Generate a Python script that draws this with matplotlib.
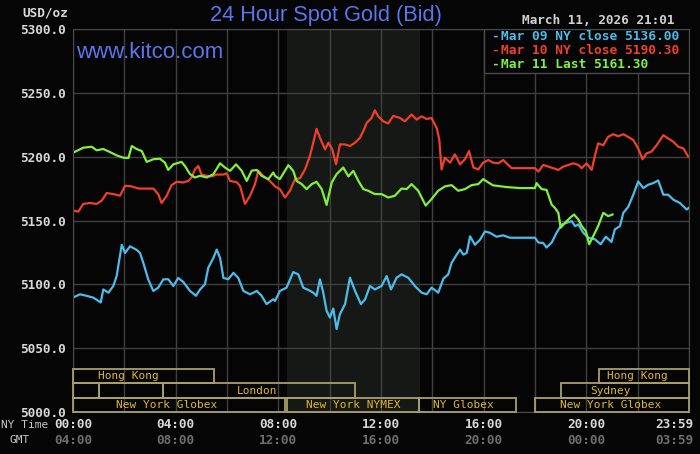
import matplotlib
matplotlib.use('Agg')
import matplotlib.pyplot as plt
from matplotlib.patches import Rectangle
from matplotlib.transforms import blended_transform_factory

# --- data (hours since 00:00 NY time, price USD/oz) ---
mar09_h = [0.0, 0.27, 0.53, 0.79, 1.08, 1.18, 1.38, 1.57, 1.70, 1.90, 2.03, 2.22, 2.48, 2.61,
           2.74, 2.93, 3.13, 3.32, 3.52, 3.71, 3.91, 4.10, 4.30, 4.56, 4.79, 4.95, 5.14, 5.27,
           5.47, 5.60, 5.73, 5.86, 6.05, 6.25, 6.44, 6.64, 6.90, 7.16, 7.35, 7.54, 7.80,
           7.87, 8.06, 8.32, 8.58, 8.78, 8.97, 9.17, 9.36, 9.49, 9.62, 9.75, 9.88, 10.01,
           10.14, 10.27, 10.40, 10.60, 10.79, 10.99, 11.22, 11.38, 11.57, 11.76, 12.02, 12.22,
           12.39, 12.61, 12.80, 13.06, 13.32, 13.58, 13.78, 13.97, 14.23, 14.43, 14.62, 14.75,
           14.95, 15.08, 15.21, 15.34, 15.47, 15.66, 15.86, 16.05, 16.24, 16.50, 16.76, 17.02,
           17.41, 18.00, 18.13, 18.32, 18.45, 18.65, 18.84, 19.04, 19.23, 19.43, 19.56, 19.69,
           19.88, 20.08, 20.34, 20.56, 20.76, 20.98, 21.11, 21.31, 21.44, 21.63, 21.83, 22.02,
           22.22, 22.41, 22.61, 22.80, 23.00, 23.19, 23.39, 23.65, 23.91, 24.0]
mar09_v = [5089.6, 5092.2, 5091.0, 5089.6, 5085.8, 5096.0, 5093.5, 5098.7, 5106.5, 5131.0,
           5124.6, 5129.8, 5127.0, 5124.6, 5116.8, 5103.9, 5094.8, 5097.4, 5103.9, 5104.0,
           5098.7, 5105.0, 5101.8, 5094.8, 5091.0, 5096.0, 5100.0, 5113.0, 5120.7, 5127.2,
           5120.7, 5105.0, 5104.0, 5109.0, 5105.0, 5094.8, 5092.2, 5094.8, 5091.0, 5084.5,
           5088.3, 5087.0, 5094.8, 5097.4, 5109.6, 5107.8, 5097.4, 5095.6, 5093.5, 5091.0,
           5103.9, 5093.5, 5079.3, 5074.0, 5081.0, 5065.0, 5076.7, 5084.5, 5105.2, 5094.8,
           5084.5, 5088.3, 5098.7, 5096.0, 5098.7, 5106.5, 5096.0, 5105.2, 5107.8, 5105.2,
           5098.7, 5093.5, 5092.2, 5097.4, 5093.5, 5104.4, 5107.8, 5116.8, 5123.3, 5127.2,
           5123.3, 5124.6, 5137.6, 5131.0, 5135.0, 5141.4, 5140.4, 5137.3, 5138.4, 5136.5,
           5136.5, 5136.5, 5132.7, 5132.4, 5128.8, 5132.7, 5140.4, 5146.9, 5148.2, 5149.5,
           5145.6, 5146.9, 5140.4, 5136.5, 5135.2, 5131.4, 5137.3, 5133.2, 5143.0, 5145.6,
           5156.0, 5160.6, 5170.2, 5180.6, 5175.4, 5178.0, 5179.3, 5181.4, 5170.2, 5170.2,
           5166.3, 5163.7, 5158.6, 5160.0]

mar10_h = [0.0, 0.21, 0.40, 0.66, 0.92, 1.12, 1.31, 1.57, 1.83, 2.03, 2.29, 2.55, 2.80, 3.13,
           3.32, 3.45, 3.65, 3.84, 4.04, 4.30, 4.49, 4.62, 4.75, 4.88, 5.01, 5.21, 5.40, 5.60,
           5.86, 5.99, 6.12, 6.38, 6.51, 6.70, 6.90, 7.09, 7.22, 7.41, 7.67,
           7.87, 8.06, 8.26, 8.45, 8.65, 8.84, 9.04, 9.23, 9.36, 9.49, 9.62, 9.82, 9.95, 10.10,
           10.25, 10.40, 10.60, 10.79, 10.99, 11.18, 11.31, 11.44, 11.63, 11.76, 11.89, 12.09,
           12.28, 12.48, 12.74, 12.93, 13.19, 13.39, 13.58, 13.78, 13.97, 14.17, 14.27, 14.36,
           14.49, 14.69, 14.88, 15.08, 15.27, 15.43, 15.60, 15.79, 15.98, 16.18, 16.37, 16.57,
           16.76, 16.96, 17.09, 17.41, 18.00, 18.13, 18.32, 18.52, 18.71, 18.91, 19.10, 19.30,
           19.49, 19.69, 19.82, 20.01, 20.21, 20.34, 20.46, 20.66, 20.85, 21.05, 21.24, 21.44,
           21.63, 21.83, 22.02, 22.19, 22.35, 22.54, 22.74, 23.00, 23.19, 23.39, 23.58, 23.78,
           23.97]
mar10_v = [5157.8, 5157.0, 5163.0, 5163.7, 5163.0, 5165.6, 5171.5, 5170.7, 5169.4, 5177.2,
           5176.7, 5175.0, 5175.0, 5175.0, 5170.7, 5163.7, 5169.4, 5177.7, 5180.3, 5179.8,
           5181.0, 5183.7, 5190.0, 5192.7, 5186.0, 5185.0, 5184.5, 5186.0, 5186.0, 5187.0,
           5181.0, 5180.0, 5177.0, 5163.0, 5169.4, 5178.5, 5189.0, 5185.0, 5181.0,
           5176.7, 5174.6, 5168.0, 5173.3, 5182.4, 5183.0, 5190.0, 5200.5, 5211.0, 5221.8,
           5214.8, 5205.7, 5211.0, 5205.7, 5194.0, 5209.6, 5209.6, 5208.3, 5211.0, 5214.8,
           5220.0, 5226.4, 5230.3, 5236.3, 5231.6, 5227.7, 5226.0, 5232.0, 5230.3, 5227.7,
           5233.0, 5229.0, 5231.6, 5229.5, 5230.3, 5222.5, 5213.5, 5190.0, 5199.2, 5195.3,
           5201.8, 5194.0, 5198.0, 5204.4, 5191.5, 5190.0, 5195.3, 5197.4, 5195.3, 5194.8,
           5197.4, 5193.5, 5191.0, 5191.0, 5191.0, 5188.3, 5193.5, 5192.2, 5191.0, 5189.6,
           5192.2, 5193.5, 5194.8, 5193.5, 5191.0, 5194.8, 5189.6, 5201.3, 5210.4, 5209.0,
           5215.5, 5217.6, 5216.0, 5217.6, 5215.5, 5213.0, 5206.5, 5198.0, 5202.6, 5204.0,
           5209.0, 5216.8, 5214.2, 5211.7, 5207.8, 5206.5, 5200.0]

mar11_h = [0.0, 0.40, 0.73, 0.92, 1.18, 1.44, 1.70, 1.96, 2.16, 2.29, 2.48, 2.68, 2.87, 3.13,
           3.39, 3.58, 3.71, 3.91, 4.23, 4.36, 4.56, 4.75, 4.95, 5.21, 5.47, 5.73, 5.92, 6.12,
           6.35, 6.57, 6.77, 6.96, 7.16, 7.35, 7.61, 7.80,
           7.87, 8.06, 8.39, 8.58, 8.71, 8.91, 9.10, 9.30, 9.49, 9.69, 9.88, 10.08, 10.27,
           10.53, 10.73, 10.92, 11.12, 11.31, 11.50, 11.76, 12.02, 12.28, 12.54, 12.80, 13.00,
           13.19, 13.45, 13.74, 13.97, 14.23, 14.49, 14.75, 15.01, 15.27, 15.53, 15.79, 15.98,
           16.18, 16.37, 16.50, 16.89, 17.41, 18.00, 18.06, 18.26, 18.45, 18.65, 18.78, 18.91,
           19.00, 19.17, 19.36, 19.52, 19.69, 19.82, 19.98, 20.11, 20.27, 20.46, 20.66, 20.85,
           21.02]
mar11_v = [5203.1, 5207.0, 5207.8, 5205.0, 5206.0, 5203.6, 5201.0, 5199.2, 5199.0, 5208.3,
           5206.0, 5204.4, 5195.9, 5198.0, 5198.4, 5195.3, 5189.6, 5194.0, 5195.9, 5192.7,
           5186.3, 5183.7, 5185.0, 5183.7, 5186.3, 5194.8, 5191.5, 5188.9, 5194.0, 5189.0,
           5181.0, 5189.0, 5189.6, 5185.0, 5182.4, 5187.6,
           5185.0, 5182.4, 5193.3, 5188.9, 5181.0, 5178.5, 5174.6, 5178.5, 5180.3, 5174.6,
           5162.2, 5179.8, 5186.3, 5191.5, 5184.5, 5188.9, 5181.0, 5174.6, 5173.3, 5170.7,
           5170.7, 5168.0, 5169.4, 5175.0, 5174.6, 5178.5, 5173.3, 5161.7, 5166.8, 5173.3,
           5176.7, 5177.7, 5173.3, 5174.6, 5177.7, 5178.5, 5182.4, 5179.8, 5177.5, 5177.2,
           5176.2, 5175.4, 5175.4, 5179.3, 5174.6, 5174.0, 5162.4, 5159.8, 5156.0, 5144.3,
           5148.2, 5152.0, 5154.7, 5150.8, 5145.6, 5141.7, 5131.4, 5137.8, 5145.6, 5156.0,
           5153.4, 5154.7]

legend_labels = ['Mar 09 NY close 5136.00', 'Mar 10 NY close 5190.30', 'Mar 11 Last 5161.30']
ny_ticks = ['00:00', '04:00', '08:00', '12:00', '16:00', '20:00', '23:59']
gmt_ticks = ['04:00', '08:00', '12:00', '16:00', '20:00', '00:00', '03:59']
tick_hours = [0, 4, 8, 12, 16, 20, 24]

# sessions: (start, end, row, label, label position in hours)
sessions = [
    (0.0, 5.5, 0, 'Hong Kong', 2.14),
    (20.5, 24.0, 0, 'Hong Kong', 22.0),
    (0.0, 1.0, 1, '', 0),
    (1.0, 3.5, 1, '', 0),
    (3.5, 11.0, 1, 'London', 7.17),
    (19.0, 24.0, 1, 'Sydney', 20.96),
    (0.0, 8.25, 2, 'New York Globex', 3.66),
    (8.33, 13.5, 2, 'New York NYMEX', 10.9),
    (13.5, 17.25, 2, 'NY Globex', 15.2),
    (18.0, 24.0, 2, 'New York Globex', 20.96),
]
row_bounds = [(5022.5, 5033.5), (5011.0, 5022.5), (5000.0, 5011.0)]

BG = '#050505'
W, H = 700, 454
mono = 'DejaVu Sans Mono'

fig = plt.figure(figsize=(7, 4.54), dpi=100, facecolor=BG)
ax = fig.add_axes([73 / W, 1 - 412 / H, 616 / W, 383 / H])
ax.set_facecolor(BG)
ax.set_xlim(0, 24)
ax.set_ylim(5000, 5300)

ax.set_xticks(range(0, 25, 2))
ax.set_xticklabels([])
yt = list(range(5000, 5301, 50))
ax.set_yticks(yt)
ax.set_yticklabels([f'{v:.1f}' for v in yt], family=mono, fontweight='bold',
                   fontsize=9.2, color='#d8d8d8')
ax.tick_params(length=0, pad=5)
ax.set_axisbelow(True)
ax.grid(True, color='#404040', lw=1)
for s in ax.spines.values():
    s.set_color('#4a4a4a')

# NYMEX shaded period
ax.axvspan(8 + 20 / 60, 13.5, color='#151815', zorder=0.2, lw=0)

ax.plot(mar09_h, mar09_v, color='#4cbcec', lw=1.6, zorder=2)
ax.plot(mar10_h, mar10_v, color='#f0402a', lw=1.6, zorder=2)
ax.plot(mar11_h, mar11_v, color='#80f03c', lw=1.6, zorder=2)

# trading sessions
for x0, x1, row, lab, lx in sessions:
    y0, y1 = row_bounds[row]
    ax.add_patch(Rectangle((x0, y0), x1 - x0, y1 - y0, fill=False,
                           edgecolor='#a8a070', lw=1.3, zorder=3, clip_on=False))
    if lab:
        ax.text(lx, (y0 + y1) / 2, lab, ha='center', va='center', family=mono,
                fontsize=8, color='#e0b830', zorder=4)

# legend box
ax.add_patch(Rectangle((16, 5265.8), 8, 34.2, facecolor=BG, edgecolor='#4a4a4a',
                       lw=1, zorder=4))
leg_colors = ['#4cbcec', '#f0402a', '#80f03c']
for i, (lab, c) in enumerate(zip(legend_labels, leg_colors)):
    y = 1 - (36 + 14.2 * i) / H
    fig.text(491 / W, y, '-', color=c, family=mono, fontweight='bold', fontsize=9.3,
             va='center', ha='left')
    fig.text(501 / W, y, lab, color=c, family=mono, fontweight='bold', fontsize=9.3,
             va='center', ha='left')

# time axis labels
tr = blended_transform_factory(ax.transData, fig.transFigure)
for h, ny, gmt in zip(tick_hours, ny_ticks, gmt_ticks):
    ha = 'right' if h == 24 else 'center'
    xh = h + (4 / 25.67 if h == 24 else 0)
    ax.text(xh, 1 - 425 / H, ny, transform=tr, ha=ha, va='center', family=mono,
            fontweight='bold', fontsize=9.2, color='#d8d8d8')
    ax.text(xh, 1 - 440 / H, gmt, transform=tr, ha=ha, va='center', family=mono,
            fontweight='bold', fontsize=9.2, color='#6e6e6e')
fig.text(48 / W, 1 - 425 / H, 'NY Time', ha='right', va='center', family=mono,
         fontsize=8, color='#c8c8c8')
fig.text(30 / W, 1 - 440 / H, 'GMT', ha='right', va='center', family=mono,
         fontsize=8, color='#c8c8c8')

fig.text(67.7 / W, 1 - 13.5 / H, 'USD/oz', ha='right', va='center', family=mono,
         fontweight='bold', fontsize=9.2, color='#d8d8d8')
fig.text(326 / W, 1 - 16 / H, '24 Hour Spot Gold (Bid)', ha='center', va='center',
         family='Liberation Sans', fontsize=15.7, color='#5a76ee')
fig.text(76 / W, 1 - 53 / H, 'www.kitco.com', ha='left', va='center',
         family='Liberation Sans', fontsize=16, color='#5a76ee')
fig.text(675 / W, 1 - 21 / H, 'March 11, 2026 21:01', ha='right', va='center',
         family=mono, fontweight='bold', fontsize=9.2, color='#d0d0d0')

fig.savefig('out.png', dpi=100, facecolor=BG)
